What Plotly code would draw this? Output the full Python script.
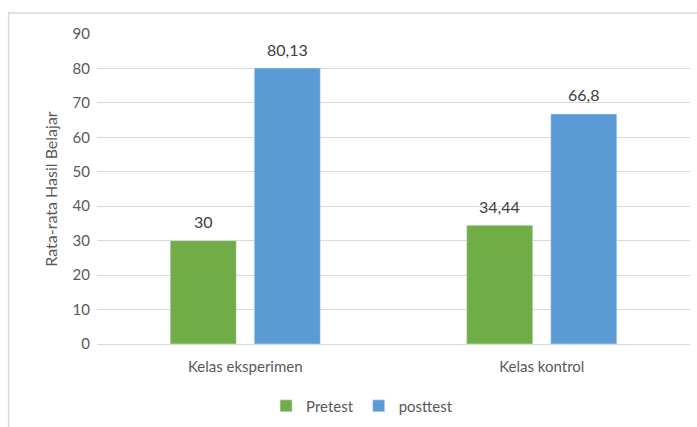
import plotly.graph_objects as go

categories = ["Kelas eksperimen", "Kelas kontrol"]
pretest = [30, 34.44]
posttest = [80.13, 66.8]
pretest_labels = ["30", "34,44"]
posttest_labels = ["80,13", "66,8"]
y_ticks = [0, 10, 20, 30, 40, 50, 60, 70, 80, 90]

font_family = "Lato, Open Sans, sans-serif"
text_gray = "#595959"
label_gray = "#404040"

series = [
    ("Pretest", pretest, pretest_labels, "#70AD47", -42),
    ("posttest", posttest, posttest_labels, "#5B9BD5", 42),
]

fig = go.Figure()
for name, values, labels, color, shift in series:
    fig.add_trace(go.Bar(name=name, x=categories, y=values,
                         marker=dict(color=color)))
    # value labels floating above each bar
    for cat, val, lab in zip(categories, values, labels):
        fig.add_annotation(x=cat, y=val, xref="x", yref="y", text=lab,
                           showarrow=False, xshift=shift, yshift=19,
                           yanchor="middle",
                           font=dict(size=16, color=label_gray))

# chart frame
fig.add_shape(type="rect", xref="paper", yref="paper",
              x0=-0.149, x1=1.05, y0=-0.4, y1=1.0677,
              line=dict(color="#D9D9D9", width=1.5), layer="below")

fig.update_layout(
    width=697, height=427,
    margin=dict(l=97, r=7, t=34, b=83, autoexpand=False),
    paper_bgcolor="white", plot_bgcolor="white",
    font=dict(family=font_family, color=text_gray, size=15),
    barmode="group", bargap=0.433, bargroupgap=0.214,
    showlegend=True,
    legend=dict(orientation="h", x=0.447, xanchor="center",
                yref="container", y=0.049, yanchor="middle",
                font=dict(size=15, color=text_gray),
                itemwidth=30),
    yaxis=dict(range=[0, 90], tickvals=y_ticks, showgrid=True,
               gridcolor="#D9D9D9", gridwidth=1, zeroline=False,
               showline=False, ticks="", tickfont=dict(size=15),
               ticklabelstandoff=6,
               title=dict(text="Rata-rata Hasil Belajar", font=dict(size=16), standoff=10)),
    xaxis=dict(showline=True, linecolor="#D9D9D9", linewidth=1, ticks="",
               tickfont=dict(size=15), ticklabelstandoff=9),
)

fig.write_html("out.html")
